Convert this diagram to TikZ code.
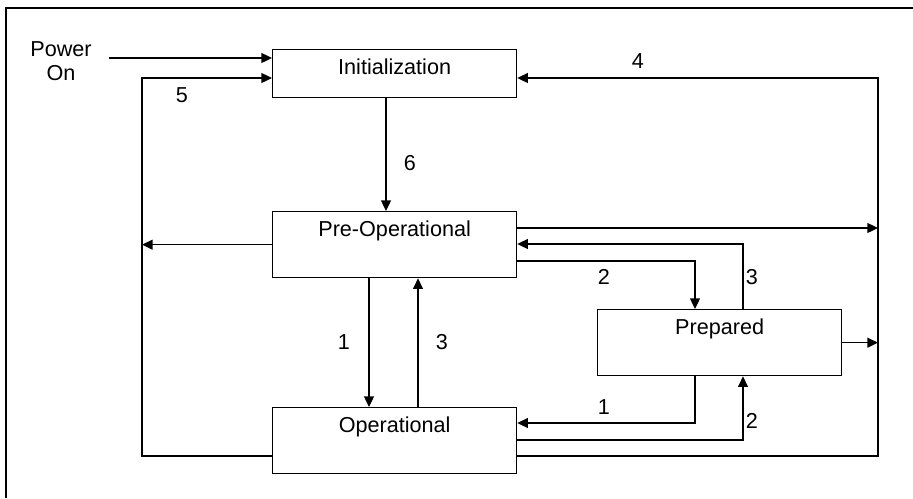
\documentclass[tikz,border=0pt]{standalone}
\usepackage{fontspec}
\setmainfont{Liberation Sans}
\usetikzlibrary{arrows.meta}

\begin{document}
\begin{tikzpicture}[x=0.02cm, y=-0.02cm,
	font=\fontsize{12.3}{14}\selectfont,
	state/.style={draw, line width=0.75pt, inner sep=0pt, minimum width=4.88cm,
		text height=0.49cm, text depth=0.83cm, anchor=north west},
	arr/.style={line width=0.75pt, -{Triangle[length=6pt,width=5.6pt]}},
	wire/.style={line width=0.75pt}]
	   \useasboundingbox (0,0) rectangle (913,498);
	   \draw[line width=1.2pt] (6,498) -- (6,8) -- (913,8);
	   % states
	   \node[state, text depth=0.47cm] (init)  at (272,49)  {Initialization};
	   \node[state]                    (preop) at (272,211) {Pre-Operational};
	   \node[state]                    (op)    at (272,407) {Operational};
	   \node[state]                    (prep)  at (597,309) {Prepared};
	   \node[align=center] (power) at (61,61) {Power\\On};
	   \coordinate (pwr) at (109,58);
	   \coordinate (lrail) at (142,78);
	   \coordinate (rrail) at (878,78);
	   % transitions
	   \draw[arr] (pwr) -- (init.west |- pwr);
	   \draw[arr] (op.west |- 0,456) -| (lrail) -- (init.west |- lrail);
	   \draw[arr] (preop.west) -- (preop.west -| lrail);
	   \draw[arr] (init.south -| 386,0) -- (preop.north -| 386,0);
	   \draw[arr] (preop.south -| 369,0) -- (op.north -| 369,0);
	   \draw[arr] (op.north -| 418,0) -- (preop.south -| 418,0);
	   \draw[arr] (op.east |- 0,456) -| (rrail) -- (init.east |- rrail);
	   \draw[arr] (preop.east |- 0,228) -- (rrail |- 0,228);
	   \draw[arr] (prep.east) -- (prep.east -| rrail);
	   \draw[arr] (prep.north -| 743,0) |- (preop.east |- 0,244);
	   \draw[arr] (preop.east |- 0,261) -| (prep.north -| 695,0);
	   \draw[arr] (prep.south -| 695,0) |- (op.east |- 0,423);
	   \draw[arr] (op.east |- 0,440) -| (prep.south -| 743,0);
	   % labels
	   \node (t5) at (182,95) {5};
	   \node (t6) at (410,163) {6};
	   \node (t4) at (638,61) {4};
	   \node (t1a) at (344,342) {1};
	   \node (t3a) at (442,342) {3};
	   \node (t2a) at (604,277) {2};
	   \node (t3b) at (752,277) {3};
	   \node (t1b) at (604,407) {1};
	   \node (t2b) at (752,421) {2};
\end{tikzpicture}
\end{document}
